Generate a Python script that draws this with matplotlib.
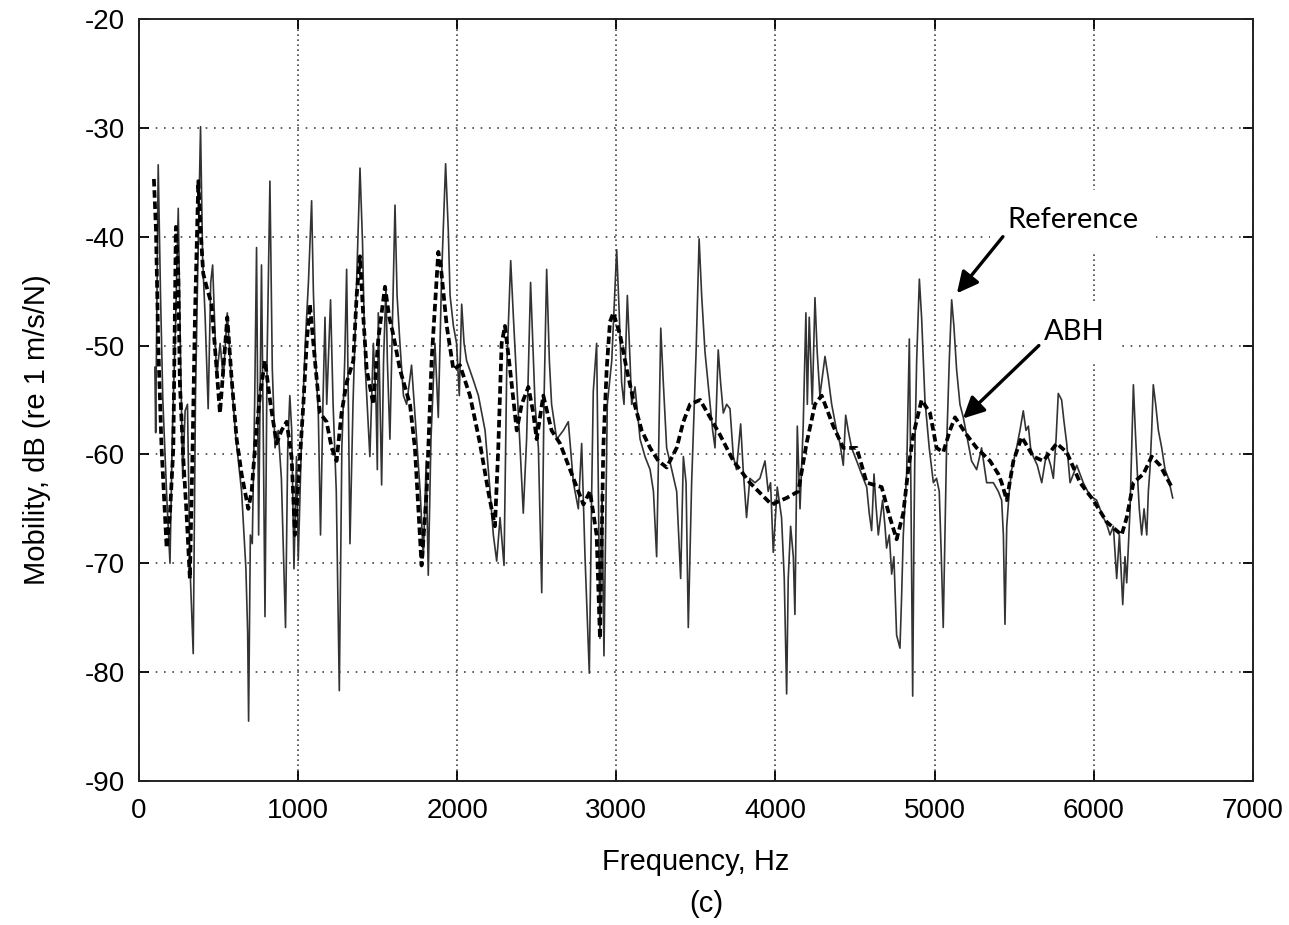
import matplotlib
matplotlib.use("Agg")
import matplotlib.pyplot as plt

plt.rcParams['font.family'] = ['Liberation Sans', 'DejaVu Sans']
plt.rcParams['axes.unicode_minus'] = False

# reference plate (thin solid line)
ref_freq = [100, 105, 121, 135, 150, 175, 195, 210, 230, 247, 260, 275, 290, 305, 320, 341,
            355, 369, 387, 400, 416, 435, 451, 463, 488, 510, 530, 555, 580, 610, 645, 672,
            683, 689, 700, 712, 727, 739, 752, 770, 782, 792, 805, 823, 838, 855, 875, 895,
            921, 935, 948, 960, 974, 990, 1001, 1020, 1045, 1065, 1085, 1096, 1110, 1127, 1141,
            1156, 1169, 1180, 1204, 1220, 1240, 1259, 1275, 1293, 1305, 1316, 1326, 1345, 1365,
            1389, 1405, 1420, 1451, 1473, 1490, 1498, 1504, 1515, 1525, 1537, 1552, 1561, 1577,
            1594, 1609, 1622, 1640, 1662, 1682, 1713, 1730, 1745, 1767, 1787, 1805, 1818, 1835,
            1860, 1881, 1902, 1927, 1944, 1955, 1976, 1996, 2013, 2028, 2043, 2059, 2097, 2133,
            2154, 2175, 2202, 2227, 2248, 2269, 2294, 2311, 2336, 2353, 2374, 2395, 2415, 2436,
            2461, 2474, 2489, 2510, 2531, 2545, 2562, 2579, 2593, 2625, 2667, 2698, 2730, 2761,
            2782, 2803, 2830, 2845, 2855, 2876, 2887, 2897, 2910, 2922, 2943, 2971, 3002, 3019,
            3033, 3048, 3069, 3086, 3096, 3117, 3149, 3180, 3212, 3233, 3253, 3266, 3279, 3295,
            3316, 3348, 3379, 3404, 3421, 3438, 3452, 3473, 3488, 3501, 3520, 3536, 3557, 3589,
            3605, 3620, 3640, 3655, 3672, 3693, 3714, 3735, 3755, 3781, 3797, 3818, 3839, 3871,
            3902, 3934, 3954, 3969, 3986, 4011, 4038, 4055, 4070, 4080, 4095, 4112, 4122, 4137,
            4154, 4174, 4191, 4200, 4212, 4231, 4248, 4262, 4279, 4311, 4332, 4353, 4384, 4405,
            4426, 4441, 4457, 4478, 4510, 4541, 4573, 4589, 4604, 4619, 4631, 4646, 4673, 4688,
            4698, 4715, 4730, 4744, 4761, 4782, 4792, 4803, 4824, 4841, 4851, 4862, 4870, 4876,
            4887, 4904, 4918, 4939, 4966, 4992, 5012, 5029, 5042, 5054, 5065, 5075, 5092, 5107,
            5121, 5138, 5159, 5180, 5211, 5232, 5264, 5295, 5327, 5369, 5400, 5421, 5432, 5442,
            5453, 5469, 5484, 5515, 5536, 5557, 5574, 5589, 5603, 5620, 5645, 5673, 5704, 5729,
            5746, 5763, 5777, 5798, 5813, 5830, 5851, 5872, 5893, 5934, 5976, 6018, 6060, 6081,
            6102, 6123, 6144, 6161, 6182, 6196, 6207, 6228, 6238, 6249, 6261, 6274, 6286, 6301,
            6316, 6333, 6343, 6353, 6364, 6374, 6389, 6406, 6427, 6448, 6469, 6496]
ref_db = [-52, -58, -33.4, -45, -55, -64, -70, -58, -48, -37.4, -50, -62.2, -56, -55.4, -70, -78.3,
          -55, -43.4, -29.9, -42, -47.4, -55.8, -44.2, -42.6, -53, -49.8, -53, -47, -53, -58.6, -63.4, -70.5,
          -76.3, -84.5, -67.4, -68.2, -55.4, -41, -67.4, -42.6, -59.4, -74.9, -51.4, -34.9, -52.2, -59.4, -57.8, -62.2,
          -75.9, -59.4, -54.6, -57.8, -70.5, -60.2, -69.7, -59.4, -49.8, -44.2, -36.7, -45, -51.4, -56.2, -67.4,
          -55.4, -47.4, -55.4, -45.8, -55.4, -63.4, -81.7, -59.4, -51.4, -43, -55.4, -68.2, -55.4, -45.4,
          -33.7, -40.6, -51.4, -60.2, -49.8, -55.4, -61.4, -47, -55.4, -62.8, -51.4, -44.6, -51.4, -58.6,
          -47.4, -37.1, -45.4, -49.8, -54.6, -55.4, -51.8, -55.4, -58.6, -63.4, -69.4, -60.6, -71.1, -58.6,
          -49.8, -56.6, -43.5, -33.3, -39.5, -45.4, -48.2, -49.8, -54.6, -46.2, -49.8, -51.4, -53, -54.6,
          -56.2, -57.8, -62.6, -67.4, -69.8, -65.8, -70.2, -52.2, -42.2, -47.4, -53.4, -59.4, -65.4, -58.6,
          -44.2, -49.4, -55.4, -59.4, -72.7, -55.4, -43, -51.4, -55.4, -58.6, -57.8, -57, -62.6, -65,
          -59, -69.4, -80.1, -63.4, -54.2, -49.8, -63.4, -76.9, -63.4, -78.5, -55.4, -51.4, -41.2, -47.4,
          -53.4, -55.4, -45.4, -51.4, -55.4, -53.8, -58.6, -60.2, -61.4, -63.4, -69.4, -59.4, -48.4, -53.4,
          -59.4, -61.4, -63.4, -71.4, -60.2, -62.6, -75.9, -62.6, -56.2, -50.6, -40.2, -45.4, -50.6, -55.4,
          -57.8, -59.4, -50.4, -53.4, -56.2, -55.4, -55.8, -60.2, -61.4, -57.2, -61.4, -65.8, -62.2, -62.6,
          -62.2, -60.6, -63.4, -62.6, -69, -63, -65.8, -71.4, -82, -71.4, -66.6, -69.4, -74.7, -57.4,
          -65, -57.4, -47, -55.4, -47.4, -55.4, -45.6, -50.6, -54.6, -51, -53, -55.4, -57.8, -59,
          -61, -56.4, -57.8, -59.4, -60.6, -61.8, -63, -65.4, -67, -61.8, -64.6, -67.4, -64.2, -66.6,
          -68.6, -67.4, -71, -69.4, -76.6, -77.8, -73.3, -67.4, -61.8, -49.4, -63.4, -82.2, -67.4, -59.4,
          -51.4, -43.9, -47.4, -55, -59.4, -62.6, -62.2, -63.4, -69.4, -75.9, -67.4, -59.4, -51.4, -45.8,
          -48.2, -52.2, -55.4, -56.6, -59, -60.6, -61.4, -59.4, -62.6, -62.6, -63.4, -64.2, -67.4, -75.6,
          -66.6, -63.4, -61.4, -59.4, -57.8, -56, -57.8, -57.4, -59.4, -60.2, -61, -62.6, -59.8, -61,
          -62.2, -58.6, -54.4, -55, -57, -59, -62.6, -61.8, -61, -62.6, -63.8, -64.2, -65.8, -66.4,
          -67.4, -66.6, -71.4, -67.4, -73.8, -69.4, -71.8, -65, -59.4, -53.6, -57.8, -61.8, -65, -67.4,
          -65, -67.4, -63.4, -61.4, -57.8, -53.6, -55.4, -57.8, -59.4, -61.4, -62.2, -64]

# plate with ABH (thick dashed line)
abh_freq = [94, 107, 121, 142, 174, 195, 216, 232, 247, 257, 278, 299, 320, 337, 352, 373, 387,
            404, 425, 456, 484, 509, 530, 555, 582, 614, 645, 687, 708, 729, 760, 792, 827, 865,
            896, 928, 959, 980, 1007, 1033, 1054, 1074, 1106, 1137, 1179, 1211, 1242, 1273, 1305,
            1347, 1368, 1389, 1410, 1431, 1473, 1504, 1546, 1573, 1598, 1640, 1703, 1734, 1776,
            1808, 1839, 1881, 1896, 1934, 1976, 2017, 2080, 2143, 2195, 2237, 2258, 2279, 2300,
            2332, 2374, 2405, 2447, 2478, 2499, 2541, 2593, 2646, 2688, 2740, 2793, 2834, 2876,
            2897, 2918, 2939, 2960, 2981, 3023, 3065, 3107, 3159, 3212, 3264, 3316, 3379, 3421,
            3463, 3526, 3589, 3651, 3735, 3839, 3975, 4070, 4143, 4195, 4248, 4290, 4363, 4426,
            4510, 4573, 4667, 4719, 4761, 4803, 4834, 4866, 4918, 4971, 5012, 5054, 5096, 5128,
            5201, 5264, 5348, 5400, 5421, 5453, 5495, 5547, 5620, 5683, 5767, 5830, 5914, 5997,
            6081, 6175, 6207, 6249, 6312, 6364, 6416, 6490]
abh_db = [-34.7, -39.4, -49.8, -59.4, -68.6, -65.4, -59.4, -39.1, -43.4, -53.4, -60.2, -65.4, -71.4, -59.4, -47.4, -34.9, -39.4,
          -43.4, -44.6, -46.2, -51.4, -56.2, -52.2, -47.4, -53, -58.6, -61.8, -65, -63.4, -59.4, -54.6, -51.4, -55.4, -59,
          -57.8, -57, -60.2, -67.4, -61.4, -55.4, -49.8, -46.2, -51.4, -56.2, -57, -59.4, -60.6, -56.2, -53.4,
          -51.4, -45.4, -41.8, -47.4, -52.2, -55.4, -49.4, -44.6, -47.4, -49, -52.2, -55.4, -59.4, -70.2,
          -63.4, -51.4, -41.4, -42.6, -48.2, -52.2, -51.8, -54.6, -59, -63.4, -66.6, -59.4, -49.8, -48.2,
          -52.2, -57.8, -55.4, -53.8, -56.2, -58.6, -54.6, -57.8, -59, -60.6, -62.6, -64.6, -63.4, -67.4,
          -76.9, -59.4, -52.2, -47.8, -47, -49, -52.2, -55, -57.8, -59.4, -60.6, -61.2, -59.4, -57,
          -55.4, -55, -56.6, -58.2, -60.6, -62.6, -64.6, -64, -63.4, -59, -55.4, -54.6, -57.4, -59.4,
          -59.4, -62.6, -63, -65.8, -67.8, -65.4, -61.4, -58.2, -55, -56.2, -59.4, -59.8, -57.8, -56.6,
          -58.2, -59.4, -60.6, -61.8, -62.6, -64.2, -60.6, -58.4, -60.2, -60.6, -59, -59.8, -62.6, -64.2,
          -66.2, -67.4, -65.8, -62.6, -61.8, -60.2, -61, -63]

x_ticks = [0, 1000, 2000, 3000, 4000, 5000, 6000, 7000]
y_ticks = [-90, -80, -70, -60, -50, -40, -30, -20]

fig = plt.figure(figsize=(12.89, 9.25), dpi=100)
ax = fig.add_axes([0.1078, 0.1557, 0.8642, 0.8238])

ax.plot(ref_freq, ref_db, color='#333333', lw=1.2, zorder=3)
ax.plot(abh_freq, abh_db, color='black', lw=2.7, dashes=(2, 1), zorder=4)

ax.set_xlim(0, 7000)
ax.set_ylim(-90, -20)
ax.set_xticks(x_ticks)
ax.set_yticks(y_ticks)
ax.tick_params(direction='in', top=True, right=True, length=7, width=1.3, labelsize=20)
ax.tick_params(axis='x', pad=12)
ax.tick_params(axis='y', pad=10)
for s in ax.spines.values():
    s.set_linewidth(1.4)
    s.set_color('#222222')

ax.xaxis.grid(True, color='#444444', lw=1.2, linestyle=(0, (1, 2)))
ax.yaxis.grid(True, color='#444444', lw=1.2, linestyle=(0, (1, 4)))
ax.set_axisbelow(True)

# labels with white boxes, arrows on top
box = dict(boxstyle='square,pad=0.6', fc='white', ec='none')
ax.text(5869, -38.5, 'Reference', family='Lato', fontsize=21, ha='center', va='center',
        bbox=box, zorder=5)
ax.text(5875, -48.8, 'ABH', family='Lato', fontsize=21, ha='center', va='center',
        bbox=box, zorder=5)
arrow = dict(arrowstyle='-|>', color='black', lw=2.4, mutation_scale=32, shrinkA=0, shrinkB=0)
ax.annotate('', xy=(5140, -45.2), xytext=(5429, -40.0), arrowprops=arrow, zorder=6)
ax.annotate('', xy=(5178, -56.7), xytext=(5655, -50.0), arrowprops=arrow, zorder=6)

fig.text(36.7 / 1289, 1 - 430 / 925, 'Mobility, dB (re 1 m/s/N)', rotation=90,
         ha='center', va='center', fontsize=21)
fig.text(696 / 1289, 1 - 862 / 925, 'Frequency, Hz', ha='center', va='center', fontsize=21)
fig.text(706 / 1289, 1 - 904 / 925, '(c)', ha='center', va='center', fontsize=21)

fig.savefig('out.png', dpi=100)
